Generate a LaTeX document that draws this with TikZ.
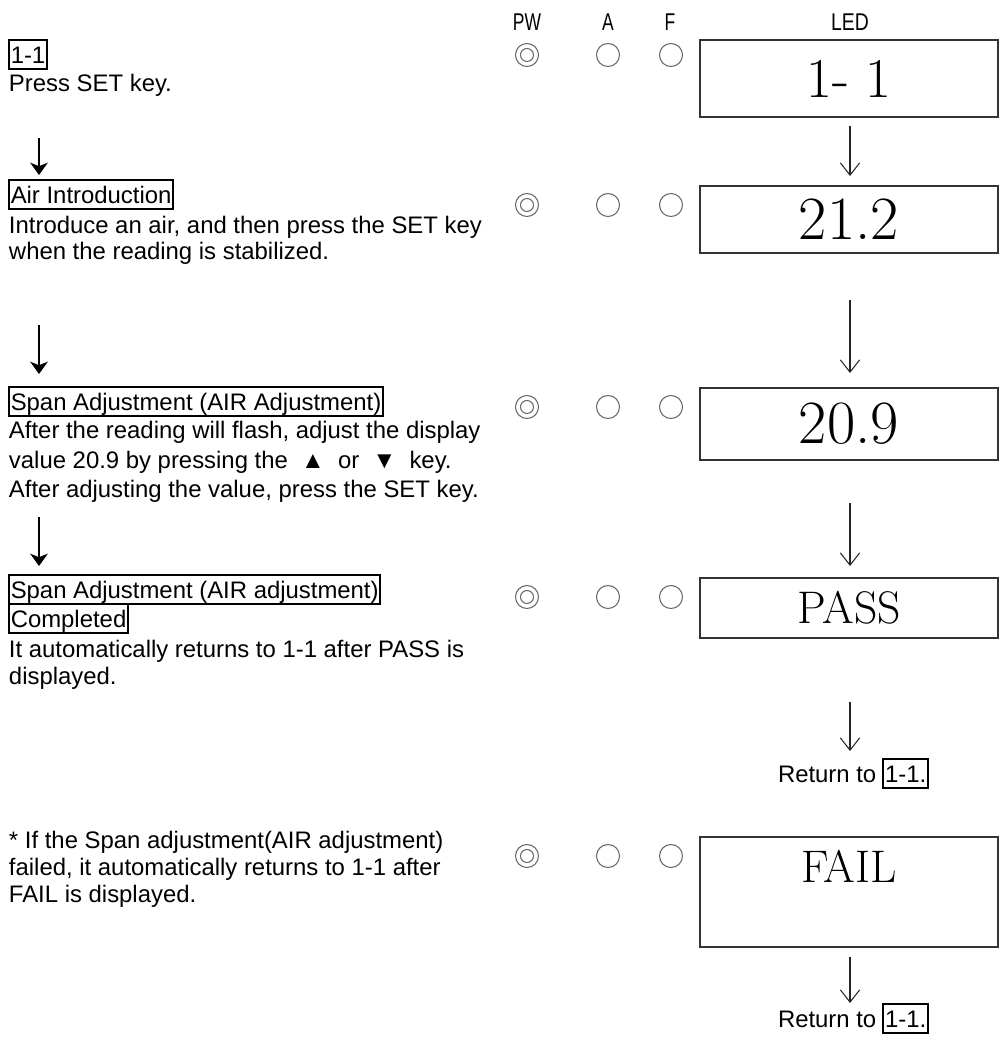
\documentclass[tikz,border=0pt]{standalone}
\usepackage{fontspec}
\newfontfamily\arial{Liberation Sans}
\usetikzlibrary{arrows.meta,positioning}

\begin{document}
\begin{tikzpicture}[x=0.02cm,y=-0.02cm,
		txt/.style={anchor=base west,inner sep=0pt,outer sep=0pt,font=\arial\fontsize{13.6}{16}\selectfont},
		tag/.style={txt,draw,line width=1.1pt,inner xsep=1pt,inner ysep=0.8pt,text height=12.2pt,text depth=2.8pt},
		hdr/.style={anchor=base,inner sep=0pt,font=\arial\fontsize{13.8}{16}\selectfont},
		lamp/.style={circle,draw=black!60,line width=0.6pt,minimum size=0.46cm,inner sep=0pt},
		ledbox/.style={draw=black!80,line width=0.8pt,minimum width=5.96cm,inner sep=0pt},
		flowarrow/.style={-{Stealth[length=7pt,width=10pt,inset=2pt]},line width=1.7pt},
		ledarrow/.style={-{Straight Barb[length=7pt,width=11pt]},line width=0.6pt,draw=black!85}]
	\useasboundingbox (0,0) rectangle (1000,1041);
	% column heads
	\node (hpw) [hdr] at (527,31) {\scalebox{0.72}[1]{PW}};
	\node (ha) [hdr] at (608,31) {\scalebox{0.72}[1]{A}};
	\node (hf) [hdr] at (670,31) {\scalebox{0.72}[1]{F}};
	\node (hled) [hdr] at (850,31) {\scalebox{0.8}[1]{LED}};
	% lamps, PW lit
	\foreach \r/\yy in {1/55,2/205,3/407,4/597,5/856}{
		\node (pw\r) [lamp] at (527,\yy) {};
		\node (pwi\r) [lamp,minimum size=0.26cm] at (527,\yy) {};
		\node (a\r) [lamp] at (608,\yy) {};
		\node (f\r) [lamp] at (671,\yy) {};
	}
	% LED display
	\node (ledA) [ledbox,minimum height=1.54cm,font=\fontsize{32}{32}\selectfont] at (849,78.5) {1- 1};
	\node (ledB) [ledbox,minimum height=1.34cm,font=\fontsize{35}{35}\selectfont] at (849,219.5) {21.2};
	\node (ledC) [ledbox,minimum height=1.44cm,font=\fontsize{35}{35}\selectfont] at (849,424) {20.9};
	\node (ledD) [ledbox,minimum height=1.2cm,font=\fontsize{26}{26}\selectfont] at (849,608) {PASS};
	\node (ledE) [ledbox,minimum height=2.2cm] at (849,892) {};
	\node (failtxt) [font=\fontsize{26}{26}\selectfont,inner sep=0pt] at (849,866) {FAIL};
	\coordinate (r1s) at (850,126); \coordinate (r1e) at (850,176);
	\coordinate (r2s) at (850,300); \coordinate (r2e) at (850,373);
	\coordinate (r3s) at (850,503); \coordinate (r3e) at (850,566);
	\coordinate (r4s) at (850,702); \coordinate (r4e) at (850,751);
	\coordinate (r5s) at (850,957); \coordinate (r5e) at (850,1003);
	\draw[ledarrow] (r1s) -- (r1e);
	\draw[ledarrow] (r2s) -- (r2e);
	\draw[ledarrow] (r3s) -- (r3e);
	\draw[ledarrow] (r4s) -- (r4e);
	\draw[ledarrow] (r5s) -- (r5e);
	\node (ret1) [txt] at (778,782) {Return to};
	\node (ret1tag) [tag] at ([xshift=4pt]ret1.base east) {1-1.};
	\node (ret2) [txt] at (778,1027) {Return to};
	\node (ret2tag) [tag] at ([xshift=4pt]ret2.base east) {1-1.};
	% steps
	\node (s1tag) [tag] at (9,63) {1-1};
	\node (s1a) [txt] at (9,91) {Press SET key.};
	\node (s2tag) [tag] at (9,203) {Air Introduction};
	\node (s2a) [txt] at (9,233) {Introduce an air, and then press the SET key};
	\node (s2b) [txt] at (9,259) {when the reading is stabilized.};
	\node (s3tag) [tag] at (9,410) {Span Adjustment (AIR Adjustment)};
	\node (s3a) [txt] at (9,438) {After the reading will flash, adjust the display};
	\node (s3b) [txt] at (9,468) {value 20.9 by pressing the\ \ ▲\ \ or\ \ ▼\ \ key.};
	\node (s3c) [txt] at (9,497) {After adjusting the value, press the SET key.};
	\node (s4tag) [tag] at (9,598) {Span Adjustment (AIR adjustment)};
	\node (s4tagb) [tag] at (9,627) {Completed};
	\node (s4a) [txt] at (9,657) {It automatically returns to 1-1 after PASS is};
	\node (s4b) [txt] at (9,684) {displayed.};
	\node (s5a) [txt] at (9,848) {* If the Span adjustment(AIR adjustment)};
	\node (s5b) [txt] at (9,875) {failed, it automatically returns to 1-1 after};
	\node (s5c) [txt] at (9,902) {FAIL is displayed.};
	\coordinate (l1s) at (39,138); \coordinate (l1e) at (39,175);
	\coordinate (l2s) at (39,325); \coordinate (l2e) at (39,374);
	\coordinate (l3s) at (39,517); \coordinate (l3e) at (39,566);
	\draw[flowarrow] (l1s) -- (l1e);
	\draw[flowarrow] (l2s) -- (l2e);
	\draw[flowarrow] (l3s) -- (l3e);
\end{tikzpicture}
\end{document}
